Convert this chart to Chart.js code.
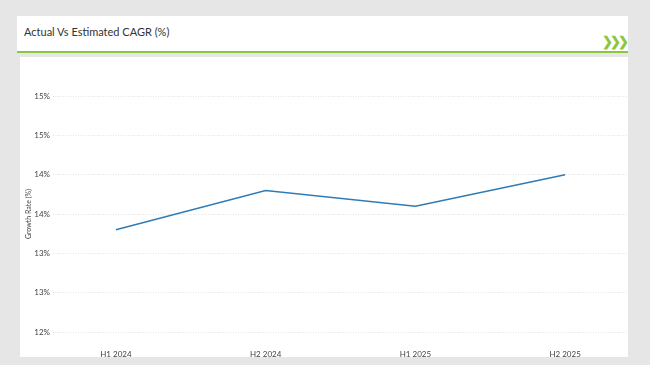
<!DOCTYPE html>
<html>
<head>
<meta charset="utf-8">
<script src="https://cdn.jsdelivr.net/npm/chart.js@4"></script>
<style>
    body { margin: 0; background: #e6e6e6; width: 650px; height: 365px; position: relative; overflow: hidden; font-family: Lato, "Open Sans", sans-serif; }
    .header { position: absolute; left: 17px; top: 16px; width: 611px; height: 35px; background: #fff; border-bottom: 2px solid #8cc63f; }
    .header h1 { margin: 0; position: absolute; left: 7px; top: 9px; font-size: 11px; font-weight: normal; color: #333; }
    .header .arrows { position: absolute; right: 2px; top: 17px; font-size: 13px; font-weight: bold; color: #8cc63f; letter-spacing: -3px; }
    .card { position: absolute; left: 20px; top: 57px; width: 608px; height: 300px; background: #fff; }
</style>
</head>
<body>
<div class="header">
    <h1>Actual Vs Estimated CAGR (%)</h1>
    <span class="arrows">&#10095;&#10095;&#10095;</span>
</div>
<div class="card"><canvas id="cagrChart" width="608" height="300"></canvas></div>
<script>
// Chart data
const periods = ['H1 2024', 'H2 2024', 'H1 2025', 'H2 2025'];
const growthRate = [13.3, 13.8, 13.6, 14.0];

const tickFont = { family: 'Lato, "Open Sans", sans-serif', size: 8 };

new Chart(document.getElementById('cagrChart'), {
    type: 'line',
    data: {
        datasets: [{
            label: 'Growth Rate (%)',
            data: growthRate.map((v, i) => ({ x: i, y: v })),
            borderColor: '#2f7bb5',
            borderWidth: 1.5,
            pointRadius: 0,
            tension: 0,
        }]
    },
    options: {
        responsive: false,
        animation: false,
        layout: { padding: { top: 39, left: 0, right: 0, bottom: 0 } },
        plugins: { legend: { display: false }, tooltip: { enabled: false } },
        scales: {
            x: {
                type: 'linear',
                min: -0.42,
                max: 3.42,
                afterBuildTicks: s => { s.ticks = periods.map((p, i) => ({ value: i })); },
                afterFit: s => { s.height = 25; },
                ticks: { color: '#444', font: tickFont, padding: 10, callback: v => periods[v] },
                grid: { display: false },
                border: { display: false }
            },
            y: {
                min: 12,
                max: 15,
                afterFit: s => { s.width = 33; },
                ticks: { stepSize: 0.5, color: '#444', font: tickFont, padding: 3, callback: v => Math.round(v) + '%' },
                title: { display: true, text: 'Growth Rate (%)', color: '#444', font: { family: tickFont.family, size: 7 }, padding: { top: 5, bottom: 0 } },
                grid: { color: '#e2e2e2', drawTicks: false },
                border: { display: false, dash: [1, 1.5] }
            }
        }
    }
});
</script>
</body>
</html>
